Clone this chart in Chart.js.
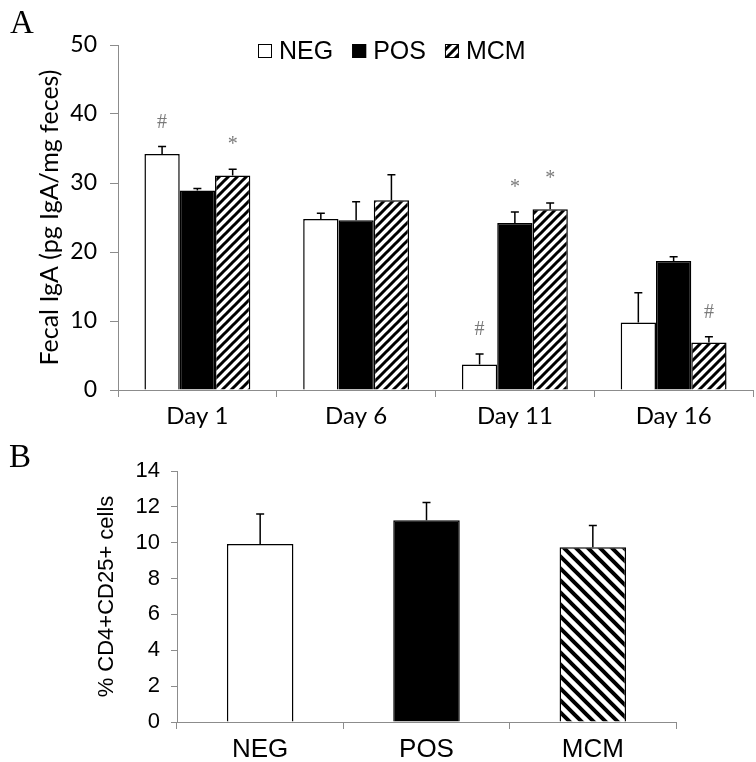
<!DOCTYPE html>
<html lang="en">
<head>
<meta charset="UTF-8">
<title>Fecal IgA and CD4+CD25+ cells</title>
<script src="https://cdn.jsdelivr.net/npm/chart.js@4.4.0/dist/chart.umd.min.js"></script>
<style>
  body { margin: 0; background: #fff; }
  #wrap { position: relative; width: 756px; height: 762px; }
  canvas { position: absolute; left: 0; }
  .letter { position: absolute; font-family: "Liberation Serif", serif; font-size: 33px; line-height: 1; color: #000; }
</style>
</head>
<body>
<div id="wrap">
  <canvas id="chartA" style="top:0" width="756" height="440"></canvas>
  <canvas id="chartB" style="top:440px" width="756" height="322"></canvas>
  <div class="letter" style="left:10px;top:6px">A</div>
  <div class="letter" style="left:9px;top:440px">B</div>
</div>
<script>
// panel A: fecal IgA per day
const days = ['Day 1', 'Day 6', 'Day 11', 'Day 16'];
const negIgA = [34.2, 24.8, 3.7, 9.8];
const posIgA = [28.9, 24.6, 24.2, 18.7];
const mcmIgA = [31.1, 27.5, 26.2, 6.9];
const negErr = [1.1, 0.8, 1.5, 4.3];
const posErr = [0.3, 2.7, 1.6, 0.6];
const mcmErr = [0.9, 3.7, 0.9, 0.8];
const negMarks = ['#', '', '#', ''];
const posMarks = ['', '', '*', ''];
const mcmMarks = ['*', '', '*', '#'];
const yTicksA = [0, 10, 20, 30, 40, 50];

// panel B: % CD4+CD25+ cells
const groups = ['NEG', 'POS', 'MCM'];
const cellPct = [9.93, 11.25, 9.75];
const cellErr = [1.67, 0.99, 1.21];
const yTicksB = [0, 2, 4, 6, 8, 10, 12, 14];

const axisGray = '#8c8c8c';

function hatch(size, width, forward) {
  const c = document.createElement('canvas');
  c.width = size; c.height = size;
  const g = c.getContext('2d');
  g.fillStyle = '#fff';
  g.fillRect(0, 0, size, size);
  g.strokeStyle = '#000';
  g.lineWidth = width;
  g.beginPath();
  if (forward) {
    g.moveTo(-size, size * 2); g.lineTo(size * 2, -size);
    g.moveTo(-size, size); g.lineTo(size, -size);
    g.moveTo(0, size * 2); g.lineTo(size * 2, 0);
  } else {
    g.moveTo(-size, -size); g.lineTo(size * 2, size * 2);
    g.moveTo(-size, 0); g.lineTo(size, size * 2);
    g.moveTo(0, -size); g.lineTo(size * 2, size);
  }
  g.stroke();
  return g.createPattern(c, 'repeat');
}

const hatchA = hatch(9, 3, true);
const hatchB = hatch(12, 4, false);

const errorBars = {
  id: 'errorBars',
  afterDatasetsDraw(chart, args, opts) {
    const ctx = chart.ctx;
    const y = chart.scales.y;
    chart.data.datasets.forEach((ds, i) => {
      chart.getDatasetMeta(i).data.forEach((bar, j) => {
        const top = y.getPixelForValue(ds.data[j] + ds.errors[j]);
        ctx.save();
        ctx.strokeStyle = '#000';
        ctx.lineWidth = 1.5;
        ctx.beginPath();
        ctx.moveTo(bar.x, bar.y);
        ctx.lineTo(bar.x, top);
        ctx.moveTo(bar.x - opts.cap, top);
        ctx.lineTo(bar.x + opts.cap, top);
        ctx.stroke();
        if (ds.marks && ds.marks[j]) {
          ctx.fillStyle = '#7a7a7a';
          ctx.font = '20px "Liberation Serif"';
          ctx.textAlign = 'center';
          ctx.textBaseline = 'middle';
          ctx.fillText(ds.marks[j], bar.x, top - 24);
        }
        ctx.restore();
      });
    });
  }
};

const boxLegend = {
  id: 'boxLegend',
  afterDraw(chart, args, opts) {
    if (!opts.show) return;
    const ctx = chart.ctx;
    ctx.save();
    ctx.font = '25px "Liberation Sans"';
    ctx.textBaseline = 'middle';
    ctx.textAlign = 'left';
    let x = opts.x;
    chart.data.datasets.forEach(ds => {
      ctx.fillStyle = ds.backgroundColor;
      ctx.fillRect(x, opts.y - 7, 14, 14);
      ctx.strokeStyle = '#000';
      ctx.lineWidth = 1;
      ctx.strokeRect(x + 0.5, opts.y - 6.5, 13, 13);
      ctx.fillStyle = '#000';
      ctx.fillText(ds.label, x + 21, opts.y + 1);
      x += 21 + ctx.measureText(ds.label).width + 19;
    });
    ctx.restore();
  }
};

function axes(o) {
  return {
    x: {
      grid: { drawOnChartArea: false, drawTicks: true, tickLength: 7, tickColor: axisGray, offset: true },
      border: { color: axisGray, width: 1 },
      ticks: { color: '#000', font: o.xFont, padding: o.xPad },
      afterFit: s => { s.height = o.xHeight; }
    },
    y: {
      min: o.ticks[0],
      max: o.ticks[o.ticks.length - 1],
      grid: { drawOnChartArea: false, drawTicks: true, tickLength: o.tickLen, tickColor: axisGray },
      border: { color: axisGray, width: 1 },
      ticks: { stepSize: o.ticks[1] - o.ticks[0], color: '#000', font: o.yFont, padding: o.yPad },
      title: { display: true, text: o.title, color: '#000', font: o.titleFont, padding: { top: o.titlePad } },
      afterFit: s => { s.width = o.yWidth; }
    }
  };
}

new Chart(document.getElementById('chartA'), {
  type: 'bar',
  data: {
    labels: days,
    datasets: [
      { label: 'NEG', data: negIgA, errors: negErr, marks: negMarks, backgroundColor: '#fff' },
      { label: 'POS', data: posIgA, errors: posErr, marks: posMarks, backgroundColor: '#000' },
      { label: 'MCM', data: mcmIgA, errors: mcmErr, marks: mcmMarks, backgroundColor: hatchA }
    ]
  },
  options: {
    responsive: false,
    animation: false,
    devicePixelRatio: 1,
    datasets: { bar: { borderColor: '#000', borderWidth: 1.5, categoryPercentage: 0.667, barPercentage: 1 } },
    layout: { padding: { top: 45, right: 3, left: 0, bottom: 0 } },
    scales: axes({
      ticks: yTicksA, title: 'Fecal IgA (pg IgA/mg feces)',
      xFont: { family: 'Lato', size: 24 }, yFont: { family: 'Lato', size: 23 },
      titleFont: { family: 'Lato', size: 25 }, titlePad: 35,
      xPad: 5, yPad: 13, tickLen: 8, xHeight: 50, yWidth: 118
    }),
    plugins: {
      legend: { display: false },
      tooltip: { enabled: false },
      errorBars: { cap: 4 },
      boxLegend: { show: true, x: 258, y: 51 }
    }
  },
  plugins: [errorBars, boxLegend]
});

new Chart(document.getElementById('chartB'), {
  type: 'bar',
  data: {
    labels: groups,
    datasets: [
      { label: '% CD4+CD25+ cells', data: cellPct, errors: cellErr, backgroundColor: ['#fff', '#000', hatchB] }
    ]
  },
  options: {
    responsive: false,
    animation: false,
    devicePixelRatio: 1,
    datasets: { bar: { borderColor: '#000', borderWidth: 1.5, categoryPercentage: 0.4, barPercentage: 1 } },
    layout: { padding: { top: 31, right: 80, left: 0, bottom: 0 } },
    scales: axes({
      ticks: yTicksB, title: '% CD4+CD25+ cells',
      xFont: { family: 'Liberation Sans', size: 26 }, yFont: { family: 'Liberation Sans', size: 22 },
      titleFont: { family: 'Liberation Sans', size: 22 }, titlePad: 94,
      xPad: 5, yPad: 11, tickLen: 6, xHeight: 40, yWidth: 177
    }),
    plugins: {
      legend: { display: false },
      tooltip: { enabled: false },
      errorBars: { cap: 4 },
      boxLegend: { show: false }
    }
  },
  plugins: [errorBars, boxLegend]
});
</script>
</body>
</html>
